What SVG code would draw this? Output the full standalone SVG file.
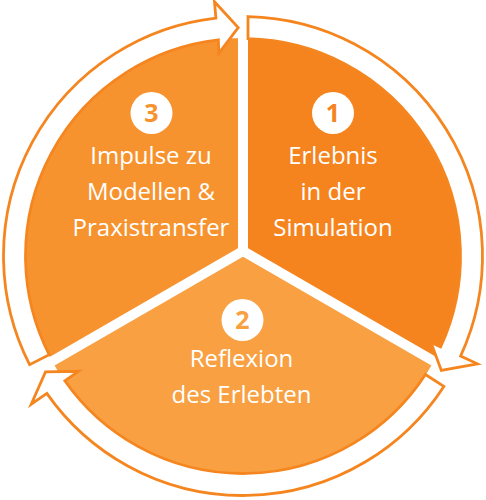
<svg xmlns="http://www.w3.org/2000/svg" width="486" height="500" viewBox="0 0 486 500">
  <style>
    .lbl { font-family: "Open Sans", "Liberation Sans", sans-serif; font-size: 24px; fill: #ffffff; text-anchor: middle; }
    .num { font-family: "Open Sans", "Liberation Sans", sans-serif; font-size: 25px; font-weight: bold; text-anchor: middle; }
    .badge { fill: #ffffff; }
    .sep { stroke: #ffffff; stroke-width: 10; fill: none; }
    .ring { fill: #ffffff; stroke: #F5861F; stroke-width: 2.8; stroke-linejoin: miter; }
  </style>
  <rect width="486" height="500" fill="#ffffff"/>

  <g id="node-1">
    <path d="M243 251 L243 38 A218 218 0 0 1 433.92 361.23 Z" fill="#F5841F"/>
    <circle class="badge" cx="333" cy="113" r="21"/>
    <text class="num" x="333" y="122" fill="#F5841F">1</text>
    <text class="lbl" x="333" y="164">Erlebnis</text>
    <text class="lbl" x="333" y="200">in der</text>
    <text class="lbl" x="333" y="236">Simulation</text>
  </g>

  <g id="node-2">
    <path d="M243 251 L433.92 361.23 A218 218 0 0 1 52.08 361.23 Z" fill="#F8A042"/>
    <circle class="badge" cx="242.5" cy="320" r="21"/>
    <text class="num" x="242.5" y="329" fill="#F8A042">2</text>
    <text class="lbl" x="241.5" y="367">Reflexion</text>
    <text class="lbl" x="241.5" y="403">des Erlebten</text>
  </g>

  <g id="node-3">
    <path d="M243 251 L52.08 361.23 A218 218 0 0 1 243 38 Z" fill="#F7932F"/>
    <circle class="badge" cx="151.5" cy="113" r="21"/>
    <text class="num" x="151.5" y="122" fill="#F7932F">3</text>
    <text class="lbl" x="151" y="164">Impulse zu</text>
    <text class="lbl" x="151" y="200">Modellen &amp;</text>
    <text class="lbl" x="151" y="236">Praxistransfer</text>
  </g>

  <g id="separators">
    <line class="sep" x1="243" y1="251" x2="243" y2="30"/>
    <line class="sep" x1="243" y1="251" x2="450.8" y2="371"/>
    <line class="sep" x1="243" y1="251" x2="35.2" y2="371"/>
  </g>

  <g id="connectors">
    <!-- 1 -> 2 -->
    <path class="ring" d="M248 16.55 A239.5 239.5 0 0 1 460.59 356.08 L477.4 363.81 L441.32 370.5 L431.0 342.5 L440.6 346.89 A217.5 217.5 0 0 0 248 38.56 Z"/>
    <!-- 2 -> 3 -->
    <path class="ring" d="M443.86 386.44 A239.5 239.5 0 0 1 46.81 393.37 L31.25 404.27 L45.49 371.88 L78.35 371.29 L64.84 380.75 A217.5 217.5 0 0 0 425.41 374.46 Z"/>
    <!-- 3 -> 1 -->
    <path class="ring" d="M29.61 364.73 A239.5 239.5 0 0 1 215.89 18.04 L214.5 1.7 L238.2 27.5 L218.8 53.4 L218.38 39.9 A217.5 217.5 0 0 0 49.21 354.75 Z"/>
  </g>
</svg>
